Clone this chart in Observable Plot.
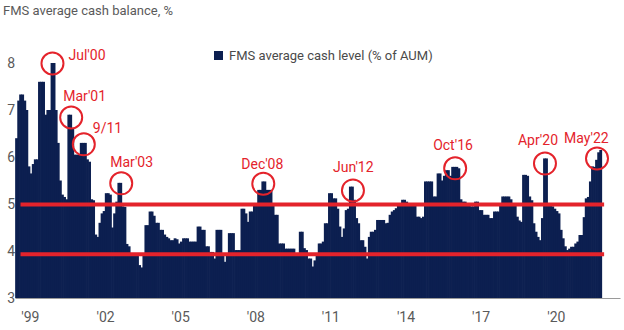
<!DOCTYPE html>
<html>
<head>
<meta charset="utf-8">
<script src="https://cdn.jsdelivr.net/npm/d3@7"></script>
<script src="https://cdn.jsdelivr.net/npm/@observablehq/plot@0.6"></script>
<style>
  html, body { margin: 0; padding: 0; background: #fff; }
  #wrap { position: relative; width: 624px; height: 330px; font-family: Roboto, "Open Sans", sans-serif; }
  #title { position: absolute; left: 3px; top: 3px; font-size: 13px; line-height: 16px; color: #5a5a5a; white-space: nowrap; }
  #chart { position: absolute; left: 0; top: 24px; }
  #legend { position: absolute; left: 214px; top: 48px; font-size: 13px; line-height: 16px; color: #4a4a4a; white-space: nowrap; }
  #legend .sw { display: inline-block; width: 9px; height: 9px; background: #0c1f50; margin-right: 6px; vertical-align: -0px; }
</style>
</head>
<body>
<div id="wrap">
  <div id="title">FMS average cash balance, %</div>
  <div id="chart"></div>
  <div id="legend"><span class="sw"></span>FMS average cash level (% of AUM)</div>
</div>
<script>
// ---- data (monthly, starting Jan 1999) ----
const startYear = 1999;
const cashLevel = [
  6.4, 7.2, 7.33, 7.33, 7.2, 7.0, 5.8, 5.65, 5.85, 5.95, 5.95, 7.6,      // 1999
  7.6, 7.6, 6.9, 7.0, 7.0, 8.0, 8.0, 7.0, 6.3, 5.5, 5.2, 5.15,           // 2000
  5.1, 6.9, 6.9, 6.6, 6.05, 6.05, 6.05, 6.3, 6.3, 6.3, 5.95, 5.9,        // 2001
  5.1, 5.08, 4.35, 4.3, 4.6, 4.8, 4.85, 5.23, 5.23, 5.2, 4.5, 4.8,       // 2002
  5.05, 5.45, 5.45, 4.95, 4.94, 4.15, 4.1, 3.95, 3.95, 3.95, 3.95, 3.7,  // 2003
  3.65, 3.9, 4.55, 4.55, 4.84, 4.84, 4.75, 4.6, 4.6, 4.45, 4.45, 4.35,   // 2004
  4.3, 4.27, 4.23, 4.23, 4.27, 4.25, 4.16, 4.2, 4.27, 4.27, 4.27, 4.2,   // 2005
  4.2, 4.2, 4.2, 4.52, 4.52, 4.45, 4.45, 4.1, 4.1, 3.98, 3.98, 3.84,     // 2006
  4.45, 4.45, 4.45, 3.95, 3.77, 3.95, 4.38, 4.38, 4.38, 4.02, 4.02, 4.02,// 2007
  4.9, 4.9, 4.8, 4.62, 4.84, 4.84, 5.0, 5.0, 5.3, 5.3, 5.48, 5.48,       // 2008
  5.3, 5.3, 5.3, 4.98, 4.77, 4.77, 4.16, 4.16, 4.16, 4.05, 4.05, 4.05,   // 2009
  4.05, 4.05, 3.95, 3.95, 4.41, 4.41, 4.06, 4.02, 3.84, 3.84, 3.67, 3.8, // 2010
  3.95, 4.16, 4.16, 4.2, 4.59, 4.59, 5.23, 5.23, 5.12, 5.12, 4.9, 4.52,  // 2011
  4.3, 4.48, 4.87, 4.9, 5.37, 5.37, 5.09, 4.7, 4.59, 4.23, 4.23, 4.09,   // 2012
  3.84, 4.3, 4.41, 4.41, 4.45, 4.66, 4.66, 4.66, 4.66, 4.59, 4.6, 4.77,  // 2013
  4.84, 4.87, 4.91, 5.0, 5.0, 5.09, 5.09, 5.05, 4.98, 4.98, 4.98, 4.98,  // 2014
  4.73, 4.73, 4.7, 4.73, 5.48, 5.48, 5.48, 5.48, 5.16, 5.16, 5.65, 5.65, // 2015
  5.5, 5.6, 5.72, 5.72, 5.6, 5.79, 5.79, 5.79, 5.76, 5.1, 5.05, 5.05,    // 2016
  5.0, 5.0, 4.95, 4.95, 5.05, 5.05, 4.87, 4.87, 4.77, 4.77, 4.77, 4.7,   // 2017
  4.7, 4.84, 4.84, 4.84, 5.0, 5.16, 5.16, 5.16, 5.16, 5.1, 5.0, 5.0,     // 2018
  4.73, 4.65, 4.62, 5.62, 5.62, 5.6, 5.16, 5.08, 4.59, 4.41, 4.3, 4.23,  // 2019
  4.7, 5.97, 5.97, 5.0, 4.98, 4.95, 4.9, 4.85, 4.8, 4.45, 4.27, 4.1,     // 2020
  4.02, 4.05, 4.09, 4.09, 4.16, 4.2, 4.34, 4.34, 4.72, 5.12, 5.15, 5.48, // 2021
  5.8, 5.79, 5.94, 6.1, 6.15                                             // 2022
];
const yTicks = [3, 4, 5, 6, 7, 8];
const tickYears = [1999, 2002, 2005, 2008, 2011, 2014, 2017, 2020];
const tickLabels = ["'99", "'02", "'05", "'08", "'11", "'14", "'17", "'20"];
const referenceLevels = [5.0, 3.94];
const annLabels = ["Jul'00", "Mar'01", "9/11", "Mar'03", "Dec'08", "Jun'12", "Oct'16", "Apr'20", "May'22"];
const annMonths = ["2000-06", "2001-03", "2001-09", "2003-03", "2008-11", "2012-06", "2016-07", "2020-02", "2022-03"];
const annValues = [8.0, 6.85, 6.28, 5.45, 5.44, 5.3, 5.77, 5.87, 5.98];

// ---- build tables ----
const bars = cashLevel.map((v, i) => ({
  start: new Date(Date.UTC(startYear, i, 1)),
  end: new Date(Date.UTC(startYear, i + 1, 1)),
  value: v
}));
const annotations = annLabels.map((label, i) => {
  const [y, m] = annMonths[i].split("-").map(Number);
  return { label, date: new Date(Date.UTC(y, m - 1, 16)), value: annValues[i] };
});

// label placement relative to each circle (px)
const labelOffset = {
  "Jul'00": [16, -8], "Mar'01": [-8, -21], "9/11": [9, -16], "Mar'03": [-11, -21],
  "Dec'08": [-22, -19], "Jun'12": [-20, -23], "Oct'16": [-22, -23], "Apr'20": [-27, -23], "May'22": [-33, -20]
};

const navy = "#0c1f50";
const red = "#e4232b";
const yMin = yTicks[0];

const chart = Plot.plot({
  width: 624,
  height: 306,
  marginLeft: 15.5,
  marginRight: 3.5,
  marginTop: 39,
  marginBottom: 32,
  style: { fontFamily: "Roboto, 'Open Sans', sans-serif", fontSize: "14px", color: "#5a5a5a", background: "#fff", overflow: "visible" },
  x: {
    type: "utc",
    domain: [new Date(Date.UTC(startYear, 0, 1)), new Date(Date.UTC(startYear, 290, 1))],
    ticks: tickYears.map(y => new Date(Date.UTC(y, 6, 30))),
    tickFormat: d => tickLabels[tickYears.indexOf(d.getUTCFullYear())],
    tickSize: 0,
    tickPadding: 14,
    label: null
  },
  y: {
    domain: [yTicks[0], yTicks[yTicks.length - 1]],
    ticks: yTicks,
    tickFormat: d => String(d),
    tickSize: 0,
    tickPadding: 1,
    label: null
  },
  marks: [
    Plot.rect(bars, { x1: "start", x2: "end", y1: () => yMin, y2: "value", fill: navy, insetLeft: -0.35, insetRight: -0.35 }),
    Plot.ruleY([yMin], { stroke: "#9a9a9a", strokeWidth: 1 }),
    Plot.ruleY(referenceLevels, {
      y: d => d,
      x1: () => new Date(Date.UTC(startYear, 2, 15)),
      x2: () => new Date(Date.UTC(startYear, 282, 5)),
      stroke: red, strokeWidth: 4
    }),
    Plot.dot(annotations, { x: "date", y: "value", r: 11, stroke: red, strokeWidth: 2, fill: "none" }),
    ...annotations.map(a => Plot.text([a], {
      x: "date", y: "value", text: "label",
      dx: labelOffset[a.label][0], dy: labelOffset[a.label][1],
      textAnchor: "start", fill: red, fontSize: 14
    }))
  ]
});
document.getElementById("chart").appendChild(chart);
</script>
</body>
</html>
